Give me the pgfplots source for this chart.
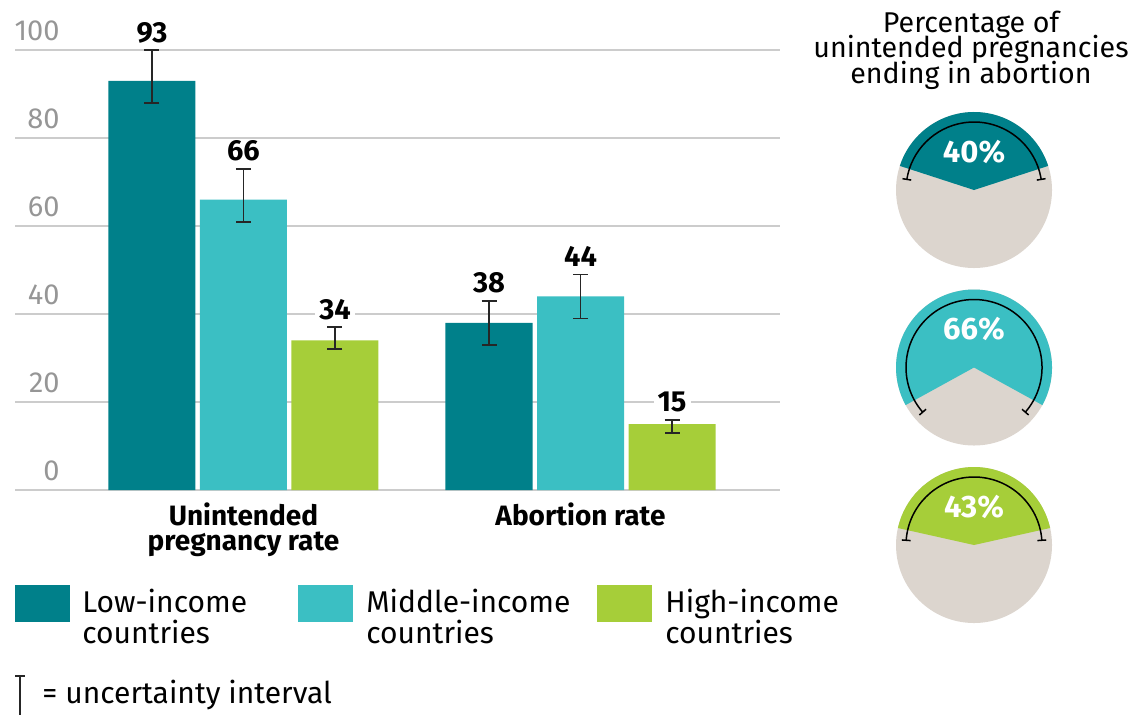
\documentclass[border=0pt]{standalone}
\usepackage{pgfplots}
\pgfplotsset{compat=1.18}
\usepackage{fontspec}
\setmainfont{Fira Sans}

\definecolor{lowc}{RGB}{0,128,138}
\definecolor{midc}{RGB}{59,191,195}
\definecolor{highc}{RGB}{166,206,57}
\definecolor{piegray}{RGB}{220,213,206}
\definecolor{gridc}{RGB}{204,204,204}
\definecolor{tickc}{RGB}{150,150,150}

% pie: cx, cy (px), colour, percent, half angle of the interval arc, label
\newcommand{\pie}[6]{%
  \begin{scope}[shift={(#1,#2)}]
    \fill[piegray] (0pt,0pt) circle[radius=39pt];
    \pgfmathsetmacro\half{1.8*#4}
    \fill[#3] (0pt,0pt) -- ({90-\half}:39pt)
      arc[start angle={90-\half}, end angle={90+\half}, radius=39pt] -- cycle;
    \draw[line width=0.75pt] ({90-#5}:34pt)
      arc[start angle={90-#5}, end angle={90+#5}, radius=34pt];
    \draw[line width=0.75pt] ({90-#5}:31.8pt) -- ({90-#5}:36.2pt);
    \draw[line width=0.75pt] ({90+#5}:31.8pt) -- ({90+#5}:36.2pt);
    \node[white, anchor=base, inner sep=0pt, font=\bfseries\fontsize{15.5}{15.5}\selectfont]
      at (0pt,14pt) {#6\%};
  \end{scope}}

\begin{document}
\begin{tikzpicture}
\path[use as bounding box] (0pt,0pt) rectangle (569pt,-357pt);

\begin{axis}[
    at={(7.5pt,-245pt)}, anchor=south west,
    scale only axis, width=382.5pt, height=220pt,
    xmin=-0.678, xmax=1.592, ymin=0, ymax=100,
    clip=false,
    /pgf/number format/assume math mode=true,
    ybar, bar width=43.5pt,
    axis line style={draw=none},
    major tick length=0pt,
    ymajorgrids, grid style={gridc, line width=0.6pt},
    ytick={0,20,40,60,80,100},
    yticklabels={0,20,40,60,80,100},
    yticklabel style={anchor=base east, inner sep=0pt, xshift=22.5pt, yshift=5pt,
      text=tickc, font=\fontsize{14.5}{14.5}\selectfont},
    xtick={0,1},
    xticklabels={{Unintended\\pregnancy rate},{Abortion rate}},
    xticklabel style={align=center, anchor=north, inner sep=0pt, yshift=-6pt,
      font=\bfseries\fontsize{14}{12.5}\selectfont},
    nodes near coords,
    visualization depends on={\thisrow{ep} \as \ep},
    every node near coord/.append style={anchor=base, inner ysep=0pt, inner xsep=2pt,
      fill=white, yshift=\ep*2.2pt+4pt,
      font=\bfseries\fontsize{14.5}{14.5}\selectfont, text=black},
    error bars/y dir=both, error bars/y explicit,
    error bars/error bar style={line width=0.9pt, black!85},
    error bars/error mark options={rotate=90, line width=0.9pt, black!85, mark size=3.75pt},
]
\addplot[fill=lowc, draw=none, bar shift=-45.75pt]
  table[x=x, y=y, y error plus=ep, y error minus=em] {
x y ep em
0 93 7 5
1 38 5 5
};
\addplot[fill=midc, draw=none, bar shift=0pt]
  table[x=x, y=y, y error plus=ep, y error minus=em] {
x y ep em
0 66 7 5
1 44 5 5
};
\addplot[fill=highc, draw=none, bar shift=45.75pt]
  table[x=x, y=y, y error plus=ep, y error minus=em] {
x y ep em
0 34 3 2
1 15 1 2
};
\end{axis}

\begin{scope}[x=0.5pt, y=-0.5pt]
% legend
\fill[lowc] (15,585) rectangle (70,622);
\fill[midc] (298,585) rectangle (353,622);
\fill[highc] (597,585) rectangle (652,622);
\begin{scope}[every node/.style={anchor=base west, inner sep=0pt, font=\fontsize{15}{15}\selectfont}]
  \node at (82,612) {Low-income};
  \node at (82,643) {countries};
  \node at (366,612) {Middle-income};
  \node at (366,643) {countries};
  \node at (665,612) {High-income};
  \node at (665,643) {countries};
  \node at (42,703) {= uncertainty interval};
\end{scope}
\draw[line width=0.8pt, black!85] (15,676) -- (25,676) (20,676) -- (20,716) (15,716) -- (25,716);

% title of the pies
\begin{scope}[every node/.style={anchor=base, inner sep=0pt, font=\fontsize{14.3}{14.3}\selectfont}]
  \node at (971,32) {Percentage of};
  \node at (971,57.5) {unintended pregnancies};
  \node at (971,83) {ending in abortion};
\end{scope}

\pie{974}{190}{lowc}{40}{81}{40}
\pie{974}{367.5}{midc}{66}{131}{66}
\pie{974}{545}{highc}{43}{86}{43}
\end{scope}
\end{tikzpicture}
\end{document}
